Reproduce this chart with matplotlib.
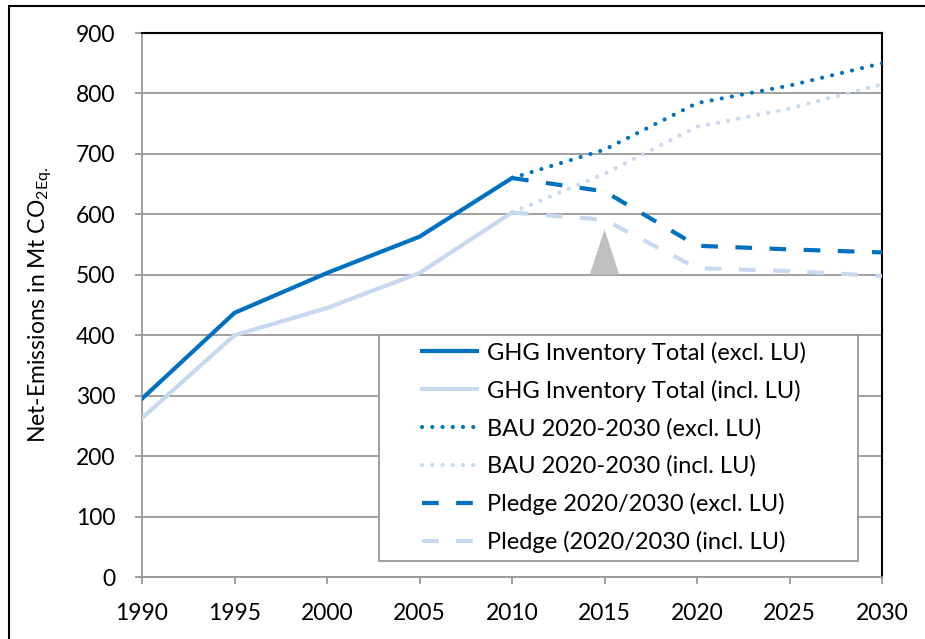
import matplotlib.pyplot as plt
from matplotlib.patches import Rectangle, Polygon

plt.rcParams["font.family"] = ["Lato", "DejaVu Sans"]

DARK = "#0070C0"
LIGHT = "#C6D9F1"
GRID = "#979797"

hist_years = [1990, 1995, 2000, 2005, 2010]
hist_excl = [295, 437, 503, 563, 660]
hist_incl = [263, 400, 445, 503, 603]

proj_years = [2010, 2015, 2020, 2025, 2030]
bau_excl = [660, 707, 784, 813, 850]
bau_incl = [603, 667, 745, 775, 815]
pledge_excl = [660, 638, 548, 542, 537]
pledge_incl = [603, 591, 511, 506, 498]

labels = [
    "GHG Inventory Total (excl. LU)",
    "GHG Inventory Total (incl. LU)",
    "BAU 2020-2030 (excl. LU)",
    "BAU 2020-2030 (incl. LU)",
    "Pledge 2020/2030 (excl. LU)",
    "Pledge (2020/2030 (incl. LU)",
]

# grey marker at 2015: apex value and base value
marker_year = 2015
marker_top = 575
marker_base = 500
marker_halfwidth = 0.8

fig = plt.figure(figsize=(9.25, 6.39), dpi=100)
ax = fig.add_axes([142 / 925, 62 / 639, 740 / 925, 544 / 639])

lw = 3.0
ax.plot(hist_years, hist_excl, color=DARK, lw=lw, label=labels[0], zorder=5)
ax.plot(hist_years, hist_incl, color=LIGHT, lw=lw, label=labels[1], zorder=4)
ax.plot(proj_years, bau_excl, color=DARK, lw=lw, dashes=(0.01, 2.45),
        dash_capstyle="round", label=labels[2], zorder=5)
ax.plot(proj_years, bau_incl, color=LIGHT, lw=lw, dashes=(0.01, 2.45),
        dash_capstyle="round", label=labels[3], zorder=4)
ax.plot(proj_years, pledge_excl, color=DARK, lw=lw, dashes=(4.0, 4.2),
        label=labels[4], zorder=5)
ax.plot(proj_years, pledge_incl, color=LIGHT, lw=lw, dashes=(4.0, 4.2),
        label=labels[5], zorder=4)

ax.add_patch(Polygon([(marker_year - marker_halfwidth, marker_base),
                      (marker_year, marker_top),
                      (marker_year + marker_halfwidth, marker_base)],
                     closed=True, facecolor="#BFBFBF", edgecolor="none", zorder=3))

ax.set_xlim(1990, 2030)
ax.set_ylim(0, 900)
ax.set_xticks(range(1990, 2031, 5))
ax.set_yticks(range(0, 901, 100))
ax.yaxis.grid(True, color=GRID, lw=1.3)
ax.set_axisbelow(True)
for side in ["left", "bottom"]:
    ax.spines[side].set_color(GRID)
    ax.spines[side].set_linewidth(1.3)
for side in ["top", "right"]:
    ax.spines[side].set_color("black")
    ax.spines[side].set_linewidth(1.5)
ax.tick_params(axis="both", colors=GRID, labelcolor="black", labelsize=16.5,
               length=5, width=1.3, direction="out")
ax.tick_params(axis="x", pad=14)
ax.tick_params(axis="y", pad=14)

ax.set_ylabel("Net-Emissions in Mt CO$_{\\mathregular{2Eq.}}$", fontsize=16.5)
ax.yaxis.set_label_coords(-0.117, 0.5)

# legend box drawn separately so its size matches the original
ax.add_patch(Rectangle((0.3203, 0.0294), 0.6473, 0.4154, transform=ax.transAxes,
                       facecolor="white", edgecolor=GRID, lw=1.3, zorder=6))
leg = ax.legend(loc="upper left", bbox_to_anchor=(0.378, 0.433), fontsize=17,
                frameon=False, handlelength=2.33, handletextpad=0.42,
                labelspacing=0.68, borderpad=0, borderaxespad=0)
leg.set_zorder(7)

# outer frame around the whole chart
fig.patches.append(Rectangle((9 / 925, -0.1), 1.2, (639 - 6) / 639 + 0.1,
                             transform=fig.transFigure, fill=False,
                             edgecolor="black", lw=1.5))

fig.savefig("out.png", dpi=100)
